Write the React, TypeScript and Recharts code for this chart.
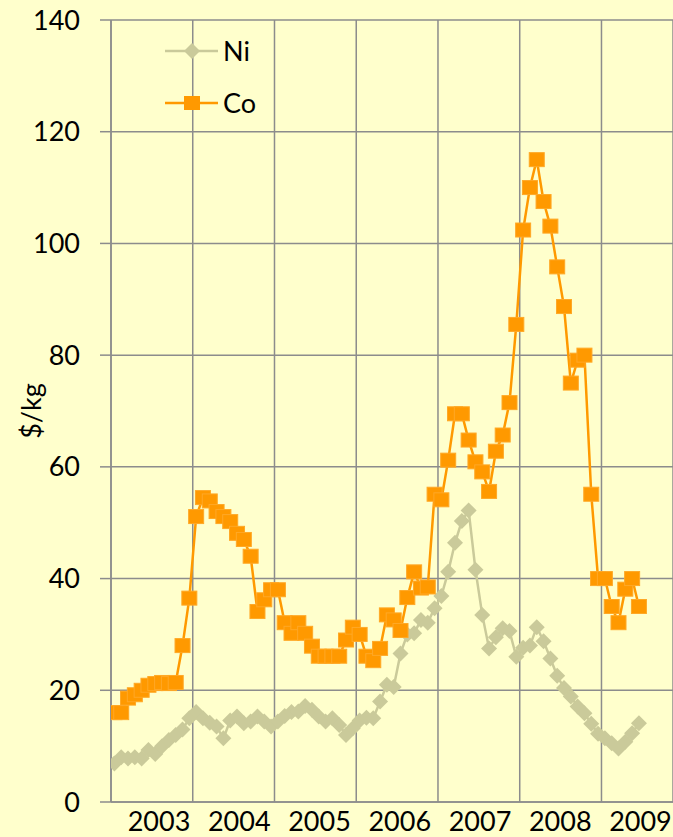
import React from "react";
import { LineChart, Line, XAxis, YAxis, CartesianGrid, Legend } from "recharts";

// Monthly prices in $/kg, Jan 2003 .. Jun 2009
const years = [2003, 2004, 2005, 2006, 2007, 2008, 2009];
const yTicks = [0, 20, 40, 60, 80, 100, 120, 140];

const coPrices = [
  16.0, 16.0, 18.6, 19.2, 20.0, 20.9, 21.2, 21.4, 21.2, 21.4, 28.0, 36.5,
  51.1, 54.5, 53.9, 52.0, 51.1, 50.2, 48.1, 47.0, 44.0, 34.1, 36.2, 38.0,
  38.0, 32.1, 30.2, 32.1, 30.2, 27.9, 26.1, 26.1, 26.1, 26.1, 29.0, 31.3,
  30.0, 26.1, 25.3, 27.5, 33.5, 32.6, 30.7, 36.6, 41.2, 38.3, 38.5, 55.1,
  54.1, 61.2, 69.5, 69.5, 64.8, 60.9, 59.1, 55.6, 62.8, 65.7, 71.5, 85.5,
  102.4, 110.0, 115.0, 107.5, 103.1, 95.8, 88.7, 75.0, 79.1, 80.0, 55.1, 40.0,
  40.0, 35.0, 32.1, 38.1, 40.0, 35.0,
];

const niPrices = [
  6.9, 8.0, 7.8, 8.0, 7.8, 9.3, 8.6, 10.0, 11.1, 12.0, 13.0, 15.0,
  16.1, 15.0, 14.2, 13.5, 11.4, 14.6, 15.3, 14.1, 14.4, 15.3, 14.4, 13.5,
  14.4, 15.4, 16.1, 16.2, 17.2, 16.5, 15.3, 14.4, 15.0, 13.8, 12.0, 13.2,
  14.6, 15.1, 15.0, 18.0, 21.0, 20.6, 26.6, 30.0, 30.2, 32.6, 32.1, 34.7,
  36.9, 41.2, 46.4, 50.3, 52.2, 41.6, 33.5, 27.5, 29.5, 31.1, 30.6, 26.0,
  27.6, 28.0, 31.3, 28.8, 25.7, 22.6, 20.4, 18.9, 17.1, 15.9, 14.0, 12.2,
  11.4, 10.5, 9.6, 10.8, 12.3, 14.1,
];

// points sit mid-month
const data = coPrices.map((co, i) => ({
  t: years[0] + (i + 0.5) / 12,
  co,
  ni: niPrices[i],
}));

const CO = "#FF9900";
const NI = "#CACA9A";
const GRID = "#8C8C8C";
const FONT = "Lato, 'Liberation Sans', sans-serif";

const Square = (props: any) => {
  const { cx, cy, index } = props;
  if (cx == null || cy == null) return null;
  return <rect key={"c" + index} x={cx - 7.5} y={cy - 7} width={15} height={14} fill={CO} stroke="#FFA826" strokeWidth={1} />;
};

const Diamond = (props: any) => {
  const { cx, cy, index } = props;
  if (cx == null || cy == null) return null;
  const r = 8;
  return (
    <polygon
      key={"n" + index}
      points={`${cx},${cy - r} ${cx + r},${cy} ${cx},${cy + r} ${cx - r},${cy}`}
      fill={NI}
    />
  );
};

// year labels sit inside each year band, drifting a bit left as in the original
const YearTick = (props: any) => {
  const { x, y, payload, index } = props;
  return (
    <text x={x + 48 - index * 1.5} y={y} dy="0.71em" textAnchor="middle" fontSize={27} fontFamily={FONT} fill="#000">
      {payload.value}
    </text>
  );
};

const LegendBox = () => (
  <svg width={130} height={100}>
    <line x1={5} y1={23} x2={58} y2={23} stroke={NI} strokeWidth={2.5} />
    <polygon points="32,15 40,23 32,31 24,23" fill={NI} />
    <text x={63} y={23} dy="0.36em" fontSize={27} fontFamily={FONT} fill="#000">Ni</text>
    <line x1={5} y1={75} x2={58} y2={75} stroke={CO} strokeWidth={2.5} />
    <rect x={24} y={68} width={16} height={14} fill={CO} />
    <text x={63} y={75} dy="0.36em" fontSize={27} fontFamily={FONT} fill="#000">Co</text>
  </svg>
);

const YLabel = (props: any) => {
  const { viewBox } = props;
  const cy = viewBox.y + viewBox.height / 2;
  return (
    <text
      x={31}
      y={cy}
      transform={`rotate(-90, 31, ${cy})`}
      textAnchor="middle"
      dy="0.36em"
      fontSize={27}
      fontFamily={FONT}
      fill="#000"
    >
      $/kg
    </text>
  );
};

export default function App() {
  return (
    <div style={{ position: "fixed", left: 0, top: 0, width: 673, height: 837, background: "#FFFFCC", overflow: "hidden" }}>
      <LineChart width={673} height={837} data={data} margin={{ top: 20, right: 0, bottom: 0, left: 0 }}>
        <CartesianGrid stroke={GRID} strokeWidth={1.5} />
        <XAxis
          dataKey="t"
          type="number"
          domain={[2003, 2009.875]}
          ticks={years}
          allowDataOverflow
          height={35}
          tickLine={false}
          tickSize={6}
          tickMargin={4}
          axisLine={{ stroke: GRID, strokeWidth: 1.5 }}
          tick={<YearTick />}
        />
        <YAxis
          domain={[0, 140]}
          ticks={yTicks}
          width={111}
          tickSize={11}
          tickMargin={20}
          tickLine={{ stroke: GRID, strokeWidth: 1.5 }}
          axisLine={{ stroke: GRID, strokeWidth: 1.5 }}
          tick={{ fontSize: 27, fontFamily: FONT, fill: "#000" }}
          label={<YLabel />}
        />
        <Legend
          layout="vertical"
          align="center"
          verticalAlign="middle"
          wrapperStyle={{ left: 160, top: 28, width: 130, height: 100 }}
          content={<LegendBox />}
        />
        <Line dataKey="ni" name="Ni" stroke={NI} strokeWidth={2.5} dot={<Diamond />} isAnimationActive={false} />
        <Line dataKey="co" name="Co" stroke={CO} strokeWidth={2.5} dot={<Square />} isAnimationActive={false} />
      </LineChart>
    </div>
  );
}
